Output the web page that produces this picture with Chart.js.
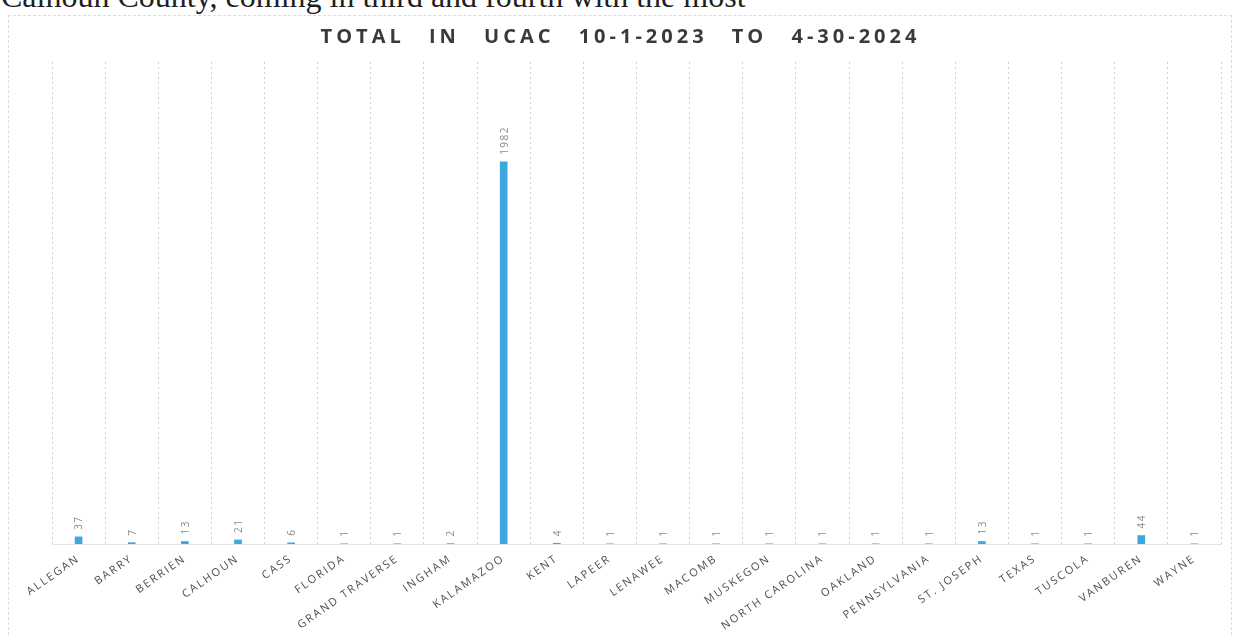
<!DOCTYPE html>
<html>
<head>
<meta charset="utf-8">
<script src="https://cdn.jsdelivr.net/npm/chart.js@4"></script>
<style>
  html, body { margin: 0; padding: 0; background: #fff; overflow: hidden; }
  #page { position: relative; width: 1237px; height: 635px; }
  #lead {
    position: absolute; left: 1px; top: -20px; white-space: nowrap;
    font-family: "Liberation Serif", serif; font-size: 32px; line-height: 32px; color: #1e1e1e;
  }
  #frame {
    position: absolute; left: 8px; top: 15px; width: 1224px; height: 640px;
    border: 1px dashed #dcdcdc; box-sizing: border-box;
  }
  #wrap { position: absolute; left: 0; top: 0; width: 1237px; height: 635px; }
</style>
</head>
<body>
<div id="page">
  <div id="lead">Calhoun County, coming in third and fourth with the most</div>
  <div id="frame"></div>
  <div id="wrap"><canvas id="ucacChart"></canvas></div>
</div>
<script>
const counties = ["ALLEGAN", "BARRY", "BERRIEN", "CALHOUN", "CASS", "FLORIDA", "GRAND TRAVERSE",
  "INGHAM", "KALAMAZOO", "KENT", "LAPEER", "LENAWEE", "MACOMB", "MUSKEGON", "NORTH CAROLINA",
  "OAKLAND", "PENNSYLVANIA", "ST. JOSEPH", "TEXAS", "TUSCOLA", "VANBUREN", "WAYNE"];
const totals = [37, 7, 13, 21, 6, 1, 1, 2, 1982, 4, 1, 1, 1, 1, 1, 1, 1, 13, 1, 1, 44, 1];
const chartTitle = "TOTAL IN UCAC 10-1-2023 TO 4-30-2024";
const yMax = 2500;

// rotated value labels above each bar
const valueLabels = {
    id: "valueLabels",
    afterDatasetsDraw(chart) {
        const ctx = chart.ctx;
        const meta = chart.getDatasetMeta(0);
        ctx.save();
        ctx.font = '10px "Open Sans"';
        ctx.fillStyle = "#8a8a8a";
        ctx.letterSpacing = "1.5px";
        ctx.textAlign = "left";
        ctx.textBaseline = "middle";
        meta.data.forEach((bar, i) => {
            ctx.save();
            ctx.translate(bar.x + 1, bar.y - 7);
            ctx.rotate(-Math.PI / 2);
            ctx.fillText(String(totals[i]), 0, 0);
            ctx.restore();
        });
        ctx.restore();
    }
};

const ctx = document.getElementById("ucacChart").getContext("2d");

const chart = new Chart(ctx, {
    type: "bar",
    data: {
        labels: counties,
        datasets: [{
            data: totals,
            backgroundColor: "#3fa6de",
            borderWidth: 0,
            barThickness: 7
        }]
    },
    options: {
        responsive: true,
        maintainAspectRatio: false,
        animation: false,
        layout: { padding: { left: 52, right: 16, top: 0, bottom: 0 } },
        scales: {
            x: {
                grid: { display: true, color: "#cfcfcf", drawTicks: false, offset: true },
                border: { display: true, color: "#e4e4e4", dash: [2, 3] },
                ticks: {
                    autoSkip: false,
                    minRotation: 35,
                    maxRotation: 35,
                    padding: 8,
                    color: "#505050",
                    font: { family: "Open Sans", size: 11 }
                },
                afterFit: (scale) => { scale.height = 91; }
            },
            y: {
                display: false,
                min: 0,
                max: yMax
            }
        },
        plugins: {
            legend: { display: false },
            tooltip: { enabled: false },
            title: {
                display: true,
                text: chartTitle,
                color: "#3a3a3a",
                font: { family: "Open Sans", size: 20, weight: "bold" },
                padding: { top: 25, bottom: 13 }
            }
        }
    },
    plugins: [valueLabels]
});

// letter-spaced text for the title and the category labels
function spaced(box, method, ls, ws, dx) {
    const orig = box[method].bind(box);
    box[method] = function (area) {
        const c = chart.ctx;
        c.save();
        c.letterSpacing = ls;
        c.wordSpacing = ws;
        c.translate(dx, 0);
        orig(area);
        c.restore();
    };
}
spaced(chart.scales.x, "drawLabels", "2px", "0px", 0);
// title sits centred on the whole frame, not on the plot area
spaced(chart.titleBlock, "draw", "4px", "15px", -16);
chart.draw();
</script>
</body>
</html>
